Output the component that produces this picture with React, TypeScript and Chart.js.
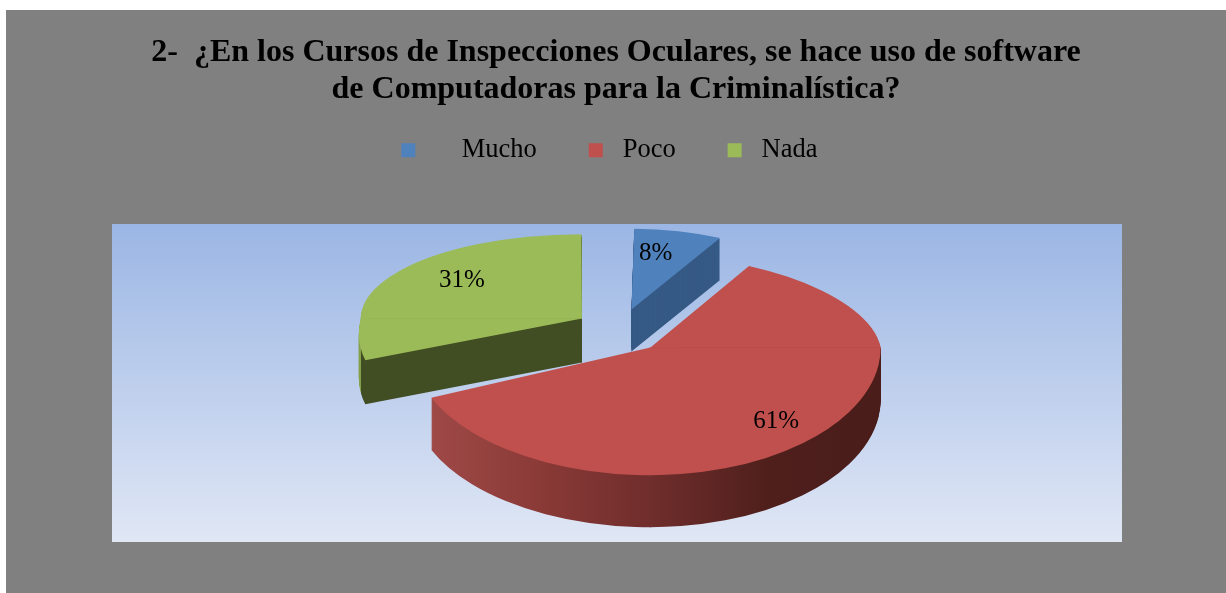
import React, { useEffect, useRef } from "react";
import { Chart, ArcElement, PieController, Legend, Title } from "chart.js";

Chart.register(ArcElement, PieController, Legend, Title);

const categories = ["Mucho", "Poco", "Nada"];
const shareValues = [8, 61, 31];
const tickLabels = ["8%", "61%", "31%"];
const titleLines = [
  "2-  ¿En los Cursos de Inspecciones Oculares, se hace uso de software",
  "de Computadoras para la Criminalística?",
];

// styles
const SERIF = "'Liberation Serif', serif";
const topColors = ["#4f81bd", "#c0504d", "#9bbb59"];
const SLICE_OFFSET = 184;
const BASE_RADIUS = 228;
const sideDepth = [42, 52, 44];
const widthScale = [0.83, 1.01, 0.97];
const leftLowerScale = [1, 1.035, 1];
const upperShear = [0, 0.09, 0];
const lowerShear = [0, 0, -0.13];
const upperSquash = [0.355, 0.415, 0.37];
const lowerSquash = [0.55, 0.56, 0.5];
const labelFraction = [0.45, 0.8, 0.7];
const labelNudge = [[3, -21], [4, -3], [8, -5]];
const legendPrefix = ["     ", " ", " "];
const legendSuffix = ["", "", "  "];
const DRAW_ORDER = [0, 2, 1];
const CANVAS_LEFT = 6;
const CANVAS_TOP = 10;
const CENTER_SHIFT_X = 4;
const CENTER_Y = 321;
const K_OFFSET = 0.48;

const backdrop = {
  id: "backdrop",
  beforeDraw(chart: any) {
    const { ctx, width, height } = chart;
    ctx.save();
    ctx.fillStyle = "#808080";
    ctx.fillRect(0, 0, width, height);
    const x = 112 - CANVAS_LEFT;
    const y = 224 - CANVAS_TOP;
    const g = ctx.createLinearGradient(0, y, 0, y + 318);
    g.addColorStop(0, "#9bb6e4");
    g.addColorStop(1, "#e0e7f5");
    ctx.fillStyle = g;
    ctx.fillRect(x, y, 1010, 318);
    ctx.restore();
  },
};

function sliceGeometry(el: any, i: number) {
  const mid = (el.startAngle + el.endAngle) / 2;
  const shift = el.options.offset / 4;
  const fix = 1 - Math.sin(Math.min(Math.PI, el.circumference));
  const drawnRadius = el.outerRadius + shift * fix;
  const norm = el.outerRadius / drawnRadius;
  const rawX = el.x + Math.cos(mid) * shift;
  const rawY = el.y + Math.sin(mid) * shift;
  const apexX = rawX + CENTER_SHIFT_X;
  const apexY = CENTER_Y + Math.sin(mid) * shift * K_OFFSET;
  const xs = widthScale[i] * norm;
  return { mid, rawX, rawY, apexX, apexY, norm, xs };
}

function sideFill(ctx: any, el: any, i: number) {
  const { apexX, xs } = sliceGeometry(el, i);
  // page x -> x in the arc's own drawing space
  const px = (p: number) => (p - CANVAS_LEFT - apexX) / xs + el.x;
  if (i === 0) return "#365a85";
  if (i === 1) {
    const g = ctx.createLinearGradient(px(431), 0, px(880), 0);
    g.addColorStop(0, "#a04a48");
    g.addColorStop(0.25, "#8a3a37");
    g.addColorStop(0.5, "#6e2d2b");
    g.addColorStop(0.75, "#4f1f1c");
    g.addColorStop(1, "#4a1d1a");
    return g;
  }
  const g = ctx.createLinearGradient(px(350), 0, px(590), 0);
  const a = (369 - 350) / 240;
  const b = (582 - 350) / 240;
  g.addColorStop(0, "#84a04a");
  g.addColorStop(a, "#84a04a");
  g.addColorStop(a + 0.001, "#414d22");
  g.addColorStop(b, "#414d22");
  g.addColorStop(b + 0.001, "#84a04a");
  g.addColorStop(1, "#84a04a");
  return g;
}

function paintSlice(ctx: any, el: any, i: number, dy: number, fill: any, W: number) {
  const { rawX, rawY, apexX, apexY, norm, xs } = sliceGeometry(el, i);
  const proxy = Object.create(el, {
    options: { value: Object.create(el.options, { backgroundColor: { value: fill } }) },
  });
  const parts: [boolean, boolean][] = [
    [true, true],
    [false, true],
    [false, false],
  ];
  for (const [upper, rightOrWhole] of parts) {
    const lowerLeft = !upper && !rightOrWhole;
    ctx.save();
    ctx.translate(apexX, apexY + dy);
    ctx.transform(
      xs * (lowerLeft ? leftLowerScale[i] : 1),
      0,
      (upper ? upperShear[i] : lowerShear[i]) * norm,
      (upper ? upperSquash[i] : lowerSquash[i]) * norm,
      0,
      0
    );
    ctx.translate(-rawX, -rawY);
    ctx.beginPath();
    if (upper) ctx.rect(-W, rawY - 3000, W * 3, 3000.6);
    else if (rightOrWhole) ctx.rect(rawX - 0.6, rawY - 0.6, W * 3, 3000);
    else ctx.rect(rawX - W * 3, rawY - 0.6, W * 3 + 0.6, 3000);
    ctx.clip();
    proxy.draw(ctx);
    ctx.restore();
  }
}

const pie3d = {
  id: "pie3d",
  beforeDatasetsDraw(chart: any) {
    const { ctx, width } = chart;
    const arcs = chart.getDatasetMeta(0).data;
    for (const i of DRAW_ORDER) {
      const el = arcs[i];
      const side = sideFill(ctx, el, i);
      for (let d = sideDepth[i]; d >= 1; d--) paintSlice(ctx, el, i, d, side, width);
      paintSlice(ctx, el, i, 0, topColors[i], width);
    }
    ctx.save();
    ctx.fillStyle = "#000";
    ctx.font = `25px ${SERIF}`;
    ctx.textAlign = "center";
    ctx.textBaseline = "middle";
    arcs.forEach((el: any, i: number) => {
      const { mid, apexX, apexY } = sliceGeometry(el, i);
      const r = el.outerRadius * labelFraction[i];
      const sy = Math.sin(mid) < 0 ? upperSquash[i] : lowerSquash[i];
      const x = apexX + Math.cos(mid) * r * widthScale[i] + labelNudge[i][0];
      const y = apexY + Math.sin(mid) * r * sy + labelNudge[i][1];
      ctx.fillText(tickLabels[i], x, y);
    });
    ctx.restore();
    return false;
  },
};

export default function App() {
  const ref = useRef<HTMLCanvasElement>(null);
  useEffect(() => {
    const chart = new Chart(ref.current as HTMLCanvasElement, {
      type: "pie",
      data: {
        labels: categories,
        datasets: [
          {
            data: shareValues,
            backgroundColor: topColors,
            borderWidth: 0,
            offset: SLICE_OFFSET,
          },
        ],
      },
      options: {
        animation: false,
        responsive: false,
        radius: BASE_RADIUS,
        events: [],
        plugins: {
          tooltip: { enabled: false },
          title: {
            display: true,
            text: titleLines,
            color: "#000",
            font: { family: SERIF, size: 32, weight: "bold", lineHeight: 1.156 },
            padding: { top: 24, bottom: -23 },
          },
          legend: {
            display: true,
            position: "top",
            labels: {
              font: { family: SERIF, size: 26.5 },
              color: "#111",
              boxWidth: 14,
              boxHeight: 14,
              padding: 52,
              generateLabels: () =>
                categories.map((c, i) => ({
                  text: legendPrefix[i] + c + legendSuffix[i],
                  fillStyle: topColors[i],
                  strokeStyle: topColors[i],
                  lineWidth: 0,
                  hidden: false,
                  index: i,
                })),
            },
          },
        },
      } as any,
      plugins: [backdrop, pie3d] as any,
    });
    return () => chart.destroy();
  }, []);
  return (
    <canvas
      ref={ref}
      width={1220}
      height={583}
      style={{ position: "absolute", left: CANVAS_LEFT, top: CANVAS_TOP, width: 1220, height: 583, display: "block" }}
    />
  );
}
